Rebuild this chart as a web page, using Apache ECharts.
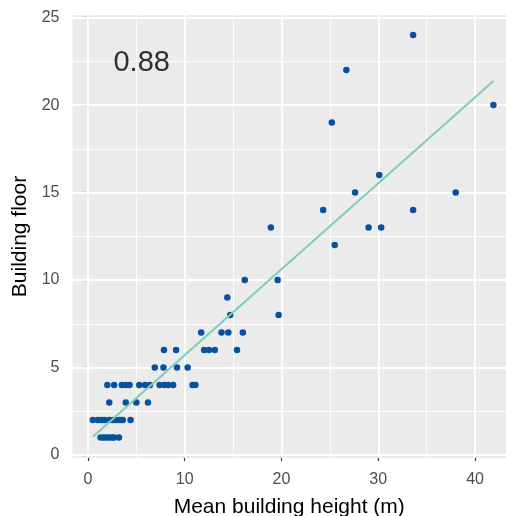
<!DOCTYPE html>
<html><head><meta charset="utf-8">
<script src="https://cdn.jsdelivr.net/npm/echarts@6/dist/echarts.min.js"></script>
<style>html,body{margin:0;padding:0;background:#fff}#c{width:506px;height:516px}</style>
</head><body><div id="c"></div>
<script>
// Mean building height (m) vs building floor
const heights = [
  33.6, 26.7, 25.2, 41.9, 30.1, 27.6, 38.0, 24.3, 33.6,
  18.9, 29.0, 30.3, 25.5, 16.2, 19.6, 14.4, 14.7, 19.7,
  11.7, 13.8, 14.5, 16.0,
  7.85, 9.1, 12.0, 12.5, 13.1, 15.4,
  6.9, 7.8, 9.2, 10.3,
  2.0, 2.7, 3.5, 3.9, 4.3, 5.3, 5.9, 6.4, 7.4, 7.9, 8.3, 8.8, 10.8, 11.1,
  2.2, 3.9, 5.0, 6.2,
  0.5, 1.0, 1.4, 1.7, 2.2, 2.6, 2.9, 3.3, 3.6, 4.4,
  1.3, 1.6, 1.9, 2.2, 2.5, 2.7, 3.2
];
const floors = [
  24, 22, 19, 20, 16, 15, 15, 14, 14,
  13, 13, 13, 12, 10, 10, 9, 8, 8,
  7, 7, 7, 7,
  6, 6, 6, 6, 6, 6,
  5, 5, 5, 5,
  4, 4, 4, 4, 4, 4, 4, 4, 4, 4, 4, 4, 4, 4,
  3, 3, 3, 3,
  2, 2, 2, 2, 2, 2, 2, 2, 2, 2,
  1, 1, 1, 1, 1, 1, 1
];
const xTicks = [0, 10, 20, 30, 40];
const xMinor = [5, 15, 25, 35];
const yTicks = [0, 5, 10, 15, 20, 25];
const yMinor = [2.5, 7.5, 12.5, 17.5, 22.5];
const statLabel = '0.88';
const statPos = [5.55, 22.4];

// least-squares fit from the data
const n = heights.length;
let sx = 0, sy = 0, sxx = 0, sxy = 0;
for (let i = 0; i < n; i++) { sx += heights[i]; sy += floors[i]; sxx += heights[i]*heights[i]; sxy += heights[i]*floors[i]; }
const slope = (n*sxy - sx*sy) / (n*sxx - sx*sx);
const icpt = (sy - slope*sx) / n;
const xmin = Math.min(...heights), xmax = Math.max(...heights);
const fitLine = [[xmin, icpt + slope*xmin], [xmax, icpt + slope*xmax]];

const pts = heights.map((h, i) => [h, floors[i]]);
const FONT = 'Liberation Sans, Arial, sans-serif';

const gridLines = [];
xTicks.forEach(v => gridLines.push({xAxis: v, lineStyle: {width: 1.8}}));
xMinor.forEach(v => gridLines.push({xAxis: v, lineStyle: {width: 0.9}}));
yTicks.forEach(v => gridLines.push({yAxis: v, lineStyle: {width: 1.8}}));
yMinor.forEach(v => gridLines.push({yAxis: v, lineStyle: {width: 0.9}}));

const chart = echarts.init(document.getElementById('c'), null, {renderer: 'canvas'});
chart.setOption({
  animation: false,
  backgroundColor: '#ffffff',
  grid: {left: 72.5, right: 0, top: 15, bottom: 58, show: true, backgroundColor: '#EBEBEB', borderWidth: 0,
         containLabel: false, outerBoundsMode: 'none'},
  xAxis: {
    type: 'value', min: -1.6, max: 43.2,
    axisLine: {show: false},
    axisTick: {show: true, customValues: xTicks, length: 6, lineStyle: {color: '#333333', width: 1.2}},
    axisLabel: {customValues: xTicks, color: '#4D4D4D', fontSize: 16, fontFamily: FONT, margin: 14},
    splitLine: {show: false},
    name: 'Mean building height (m)', nameLocation: 'middle', nameGap: 39,
    nameTextStyle: {color: '#000', fontSize: 21, fontFamily: FONT}
  },
  yAxis: {
    type: 'value', min: -0.17, max: 25.15,
    axisLine: {show: false},
    axisTick: {show: true, customValues: yTicks, length: 6, lineStyle: {color: '#333333', width: 1.2}},
    axisLabel: {customValues: yTicks, color: '#4D4D4D', fontSize: 16, fontFamily: FONT, margin: 13},
    splitLine: {show: false},
    name: 'Building floor', nameLocation: 'middle', nameGap: 39, nameRotate: 90,
    nameTextStyle: {color: '#000', fontSize: 21, fontFamily: FONT}
  },
  series: [
    {
      type: 'line', data: [], z: 1, zlevel: 0, silent: true,
      markLine: {silent: true, z: 1, symbol: ['none', 'none'], label: {show: false}, animation: false,
        lineStyle: {color: '#FFFFFF', type: 'solid'}, emphasis: {disabled: true}, data: gridLines}
    },
    {
      type: 'scatter', data: pts, symbolSize: 6.5, z: 6,
      itemStyle: {color: '#08519C', opacity: 1}
    },
    {
      type: 'line', data: fitLine, showSymbol: false, symbol: 'none', z: 7,
      lineStyle: {color: '#7FCDBB', width: 2}
    },
    {
      type: 'scatter', data: [statPos], symbolSize: 0, z: 8,
      label: {show: true, position: 'inside', formatter: statLabel, color: '#000000', textBorderWidth: 0, fontSize: 29, fontFamily: FONT}
    }
  ]
});
</script></body></html>
